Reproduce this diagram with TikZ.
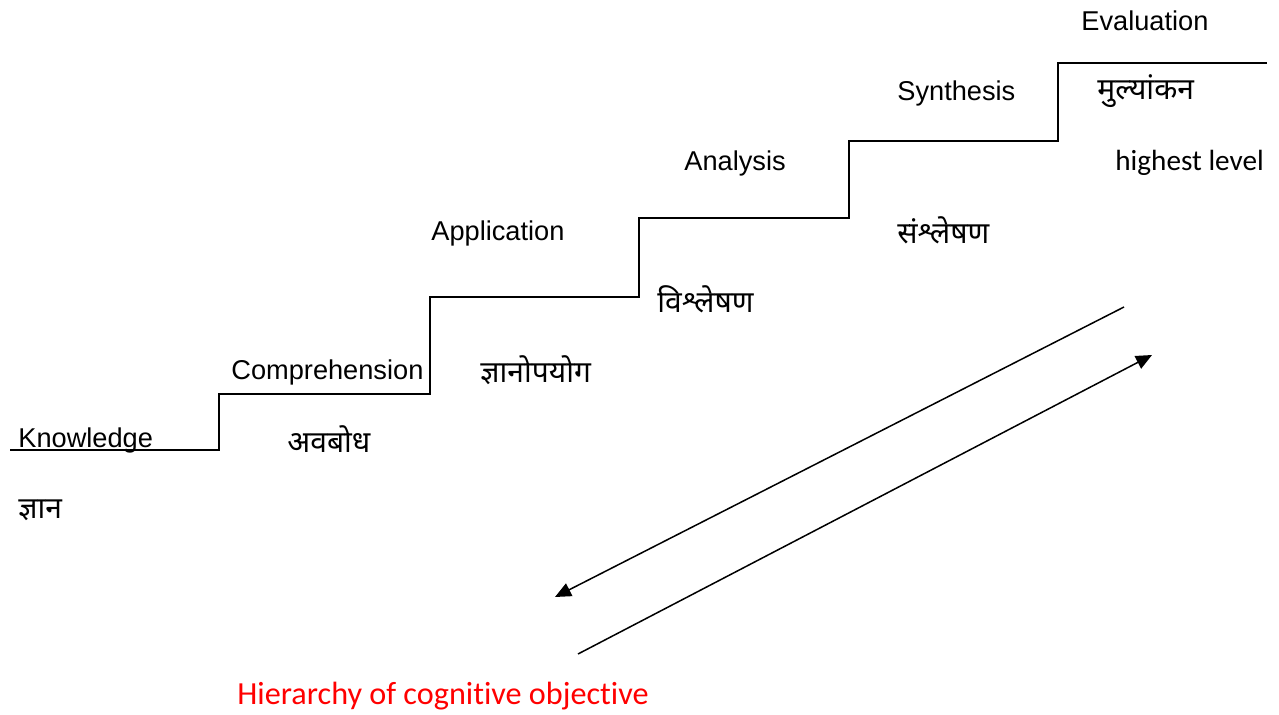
\documentclass[tikz,border=0pt]{standalone}
\usepackage{fontspec}
\setmainfont{Liberation Sans}
\newfontfamily\hindi[Script=Devanagari]{Noto Sans}
\newfontfamily\calib[Ligatures=NoCommon]{Carlito}
\usepackage{xcolor}
\usetikzlibrary{positioning,arrows.meta}

\begin{document}
\begin{tikzpicture}[x=0.5pt,y=-0.5pt]
\tikzstyle{every node}+=[inner sep=0pt]
\tikzstyle{eng}=[anchor=base west,font=\fontsize{13.6}{16}\selectfont]
\tikzstyle{hin}=[anchor=west,font=\hindi\fontsize{15}{18}\selectfont]
\tikzstyle{stair}=[black,line width=1pt]
\tikzstyle{way}=[black,line width=0.75pt,-{Triangle[length=8pt,width=7pt]}]
\useasboundingbox (0,0) rectangle (1279,715);
\draw [stair] (10,450) -- (219,450) -- (219,394) -- (430,394) -- (430,297) -- (639,297)
  -- (639,218) -- (849,218) -- (849,141) -- (1058,141) -- (1058,63) -- (1267,63);
\node [eng] (know) at (18,448) {Knowledge};
\node [hin] (gyan) at (18,510) {ज्ञान};
\node [eng] (comp) at (231,380) {Comprehension};
\node [hin] (avbodh) at (287,439) {अवबोध};
\node [eng] (appl) at (431,241) {Application};
\node [hin] (upyog) at (480,370) {ज्ञानोपयोग};
\node [eng] (anal) at (684,171) {Analysis};
\node [hin] (vishl) at (657,299) {विश्लेषण};
\node [eng] (synt) at (897,101) {Synthesis};
\node [hin] (sanshl) at (897,230) {संश्लेषण};
\node [eng] (eval) at (1081,31) {Evaluation};
\node [hin] (mulya) at (1097,91) {मुल्यांकन};
\node [anchor=base west,font=\calib\fontsize{14.6}{17}\selectfont] (high) at (1115,171) {highest level};
\node [anchor=base west,red,font=\calib\fontsize{16.1}{19}\selectfont] (title) at (237,704) {Hierarchy of cognitive objective};
\coordinate (down top) at (1124,307);
\coordinate (down end) at (555,597);
\coordinate (up bot) at (578,654);
\coordinate (up end) at (1152,355);
\draw [way] (down top) -- (down end);
\draw [way] (up bot) -- (up end);
\end{tikzpicture}
\end{document}
